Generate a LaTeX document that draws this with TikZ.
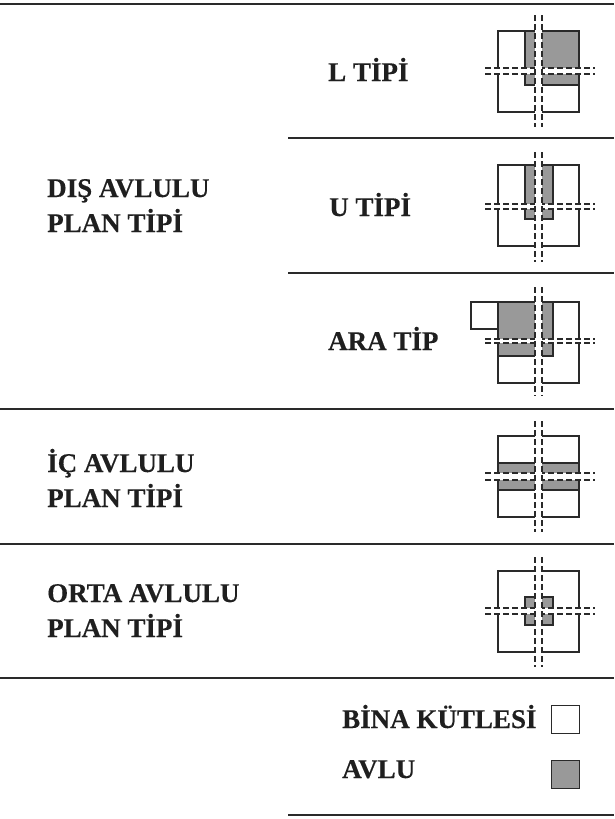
\documentclass[tikz,border=0pt]{standalone}
\usepackage{fontspec}
\setmainfont{Liberation Serif}[BoldFeatures={FakeBold=0.3}]
\usepackage{xcolor}
\definecolor{lineink}{HTML}{2A2A2A}
\definecolor{courtgrey}{HTML}{999999}
\newcommand{\planaxes}[4]{%
    \fill[white] (485,#3) rectangle (595,#4);
    \draw[axis] (485,#3) -- (595,#3);
    \draw[axis] (485,#4) -- (595,#4);
    \fill[white] (535,#1) rectangle (542,#2);
    \draw[axis] (535,#1) -- (535,#2);
    \draw[axis] (542,#1) -- (542,#2);
}
\begin{document}
\begin{tikzpicture}[
    x=1pt, y=-1pt,
    rule/.style={draw=lineink, line width=1.7pt},
    mass/.style={draw=lineink, line width=1.9pt, fill=white},
    court/.style={draw=lineink, line width=1.9pt, fill=courtgrey},
    axis/.style={draw=lineink, line width=1.6pt, dash pattern=on 6pt off 3pt},
    label/.style={font=\fontsize{27}{27}\selectfont\bfseries, text=black!88, inner sep=0pt, anchor=base west}
]
    \useasboundingbox (0,0) rectangle (614,819);
    \fill[white] (0,0) rectangle (614,819);

    % rules
    \draw[rule] (0,4) -- (614,4);
    \draw[rule] (288,138) -- (614,138);
    \draw[rule] (288,273) -- (614,273);
    \draw[rule] (0,409) -- (614,409);
    \draw[rule] (0,544) -- (614,544);
    \draw[rule] (0,678) -- (614,678);
    \draw[rule] (288,815) -- (614,815);

    % labels
    \node[label] (ltype) at (328,81) {L TİPİ};
    \node[label] (utype) at (329,216) {U TİPİ};
    \node[label] (aratype) at (328,350) {ARA TİP};
    \node[label] (dis) at (47,197) {DIŞ AVLULU};
    \node[label] (displan) at (47,232) {PLAN TİPİ};
    \node[label] (ic) at (47,472) {İÇ AVLULU};
    \node[label] (icplan) at (47,507) {PLAN TİPİ};
    \node[label] (orta) at (47,602) {ORTA AVLULU};
    \node[label] (ortaplan) at (47,637) {PLAN TİPİ};
    \node[label] (kutle) at (342,728) {BİNA KÜTLESİ};
    \node[label] (avlu) at (342,778) {AVLU};

    % L
    \draw[mass] (498,31) rectangle (579,112);
    \draw[court] (525,31) rectangle (579,85);
    \planaxes{15}{127}{68}{74}

    % U
    \draw[mass] (498,165) rectangle (579,246);
    \draw[court] (525,165) rectangle (553,219);
    \planaxes{152}{262}{204}{209}

    % ara
    \draw[mass] (471,302) rectangle (498,329);
    \draw[mass] (498,302) rectangle (579,383);
    \draw[court] (498,302) rectangle (553,356);
    \planaxes{287}{396}{339}{343}

    % ic
    \draw[mass] (498,436) rectangle (579,517);
    \draw[court] (498,463) rectangle (579,490);
    \planaxes{421}{532}{473}{480}

    % orta
    \draw[mass] (498,571) rectangle (579,652);
    \draw[court] (525,597) rectangle (553,625);
    \planaxes{557}{667}{608}{614}

    % legend
    \node[mass, minimum size=28pt, inner sep=0pt] (kutlekey) at (565.5,719.5) {};
    \node[court, minimum size=28pt, inner sep=0pt] (avlukey) at (565.5,774.5) {};
\end{tikzpicture}
\end{document}
